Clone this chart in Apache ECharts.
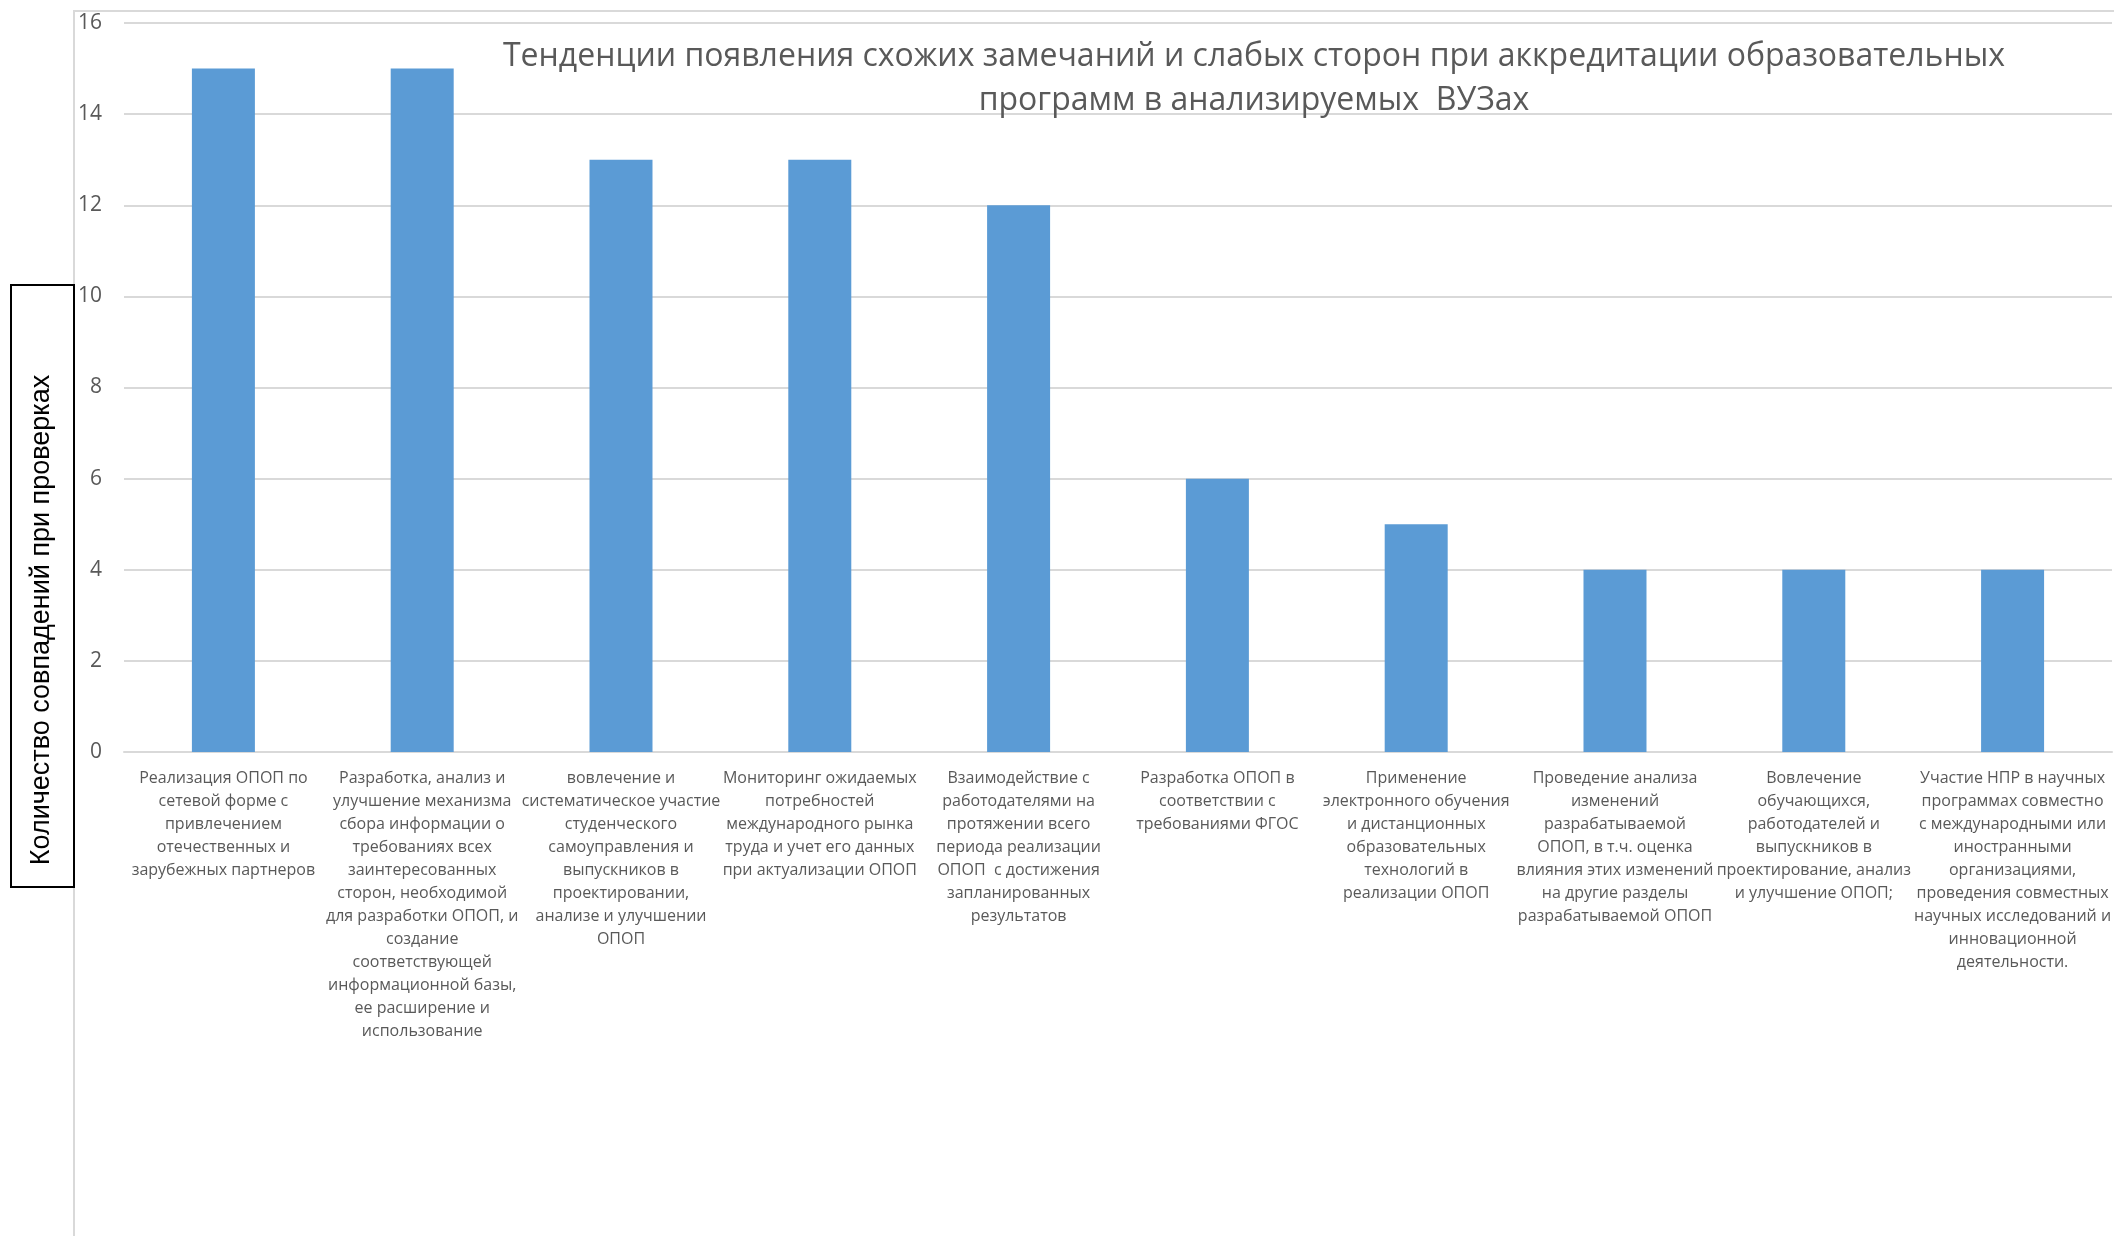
<!DOCTYPE html>
<html>
<head>
<meta charset="utf-8">
<script src="https://cdn.jsdelivr.net/npm/echarts@6/dist/echarts.min.js"></script>
<style>
  html, body { margin: 0; padding: 0; background: #ffffff; }
  #chart { width: 2114px; height: 1236px; }
</style>
</head>
<body>
<div id="chart"></div>
<script>
const titleLines = [
  'Тенденции появления схожих замечаний и слабых сторон при аккредитации образовательных',
  'программ в анализируемых  ВУЗах'
];
const yAxisTitle = 'Количество совпадений при проверках';
const categories = [
  'Реализация ОПОП по\nсетевой форме с\nпривлечением\nотечественных и\nзарубежных партнеров',
  'Разработка, анализ и\nулучшение механизма\nсбора информации о\nтребованиях всех\nзаинтересованных\nсторон, необходимой\nдля разработки ОПОП, и\nсоздание\nсоответствующей\nинформационной базы,\nее расширение и\nиспользование',
  'вовлечение и\nсистематическое участие\nстуденческого\nсамоуправления и\nвыпускников в\nпроектировании,\nанализе и улучшении\nОПОП',
  'Мониторинг ожидаемых\nпотребностей\nмеждународного рынка\nтруда и учет его данных\nпри актуализации ОПОП',
  'Взаимодействие с\nработодателями на\nпротяжении всего\nпериода реализации\nОПОП  с достижения\nзапланированных\nрезультатов',
  'Разработка ОПОП в\nсоответствии с\nтребованиями ФГОС',
  'Применение\nэлектронного обучения\nи дистанционных\nобразовательных\nтехнологий в\nреализации ОПОП',
  'Проведение анализа\nизменений\nразрабатываемой\nОПОП, в т.ч. оценка\nвлияния этих изменений\nна другие разделы\nразрабатываемой ОПОП',
  'Вовлечение\nобучающихся,\nработодателей и\nвыпускников в\nпроектирование, анализ\nи улучшение ОПОП;',
  'Участие НПР в научных\nпрограммах совместно\nс международными или\nиностранными\nорганизациями,\nпроведения совместных\nнаучных исследований и\nинновационной\nдеятельности.'
];
const values = [15, 15, 13, 13, 12, 6, 5, 4, 4, 4];
const yMin = 0;
const yMax = 16;
const yStep = 2;

const chart = echarts.init(document.getElementById('chart'), null, { renderer: 'canvas' });
const option = {
  backgroundColor: '#ffffff',
  animation: false,
  grid: { left: 124, right: 0, top: 23, bottom: 484, containLabel: false },
  xAxis: {
    type: 'category',
    data: categories,
    axisLine: { show: true, lineStyle: { color: '#D9D9D9', width: 2 } },
    axisTick: { show: false },
    axisLabel: {
      interval: 0,
      hideOverlap: false,
      margin: 15,
      color: '#595959',
      fontFamily: 'Open Sans',
      fontSize: 16,
      lineHeight: 23,
      align: 'center'
    },
    splitLine: { show: false }
  },
  yAxis: {
    type: 'value',
    min: yMin,
    max: yMax,
    interval: yStep,
    axisLine: { show: false },
    axisTick: { show: false },
    axisLabel: {
      margin: 22,
      color: '#595959',
      fontFamily: 'Open Sans',
      fontSize: 21
    },
    splitLine: { show: true, lineStyle: { color: '#D9D9D9', width: 2 } }
  },
  series: [{
    type: 'bar',
    data: values,
    barWidth: 63,
    itemStyle: { color: '#5B9BD5' },
    z: 3
  }],
  graphic: [
    {
      type: 'rect',
      z: 1,
      silent: true,
      shape: { x: 74, y: 11, width: 2200, height: 1400 },
      style: { fill: 'none', stroke: '#D9D9D9', lineWidth: 2 }
    },
    {
      type: 'text',
      z: 10,
      silent: true,
      x: 1254,
      y: 35,
      style: {
        text: titleLines.join('\n'),
        fill: '#595959',
        font: '32px "Open Sans"',
        lineHeight: 44,
        align: 'center',
        verticalAlign: 'top'
      }
    },
    {
      type: 'rect',
      z: 5,
      silent: true,
      shape: { x: 11, y: 285, width: 63, height: 602 },
      style: { fill: '#ffffff', stroke: '#000000', lineWidth: 2 }
    },
    {
      type: 'text',
      z: 6,
      silent: true,
      x: 42,
      y: 620,
      rotation: Math.PI / 2,
      style: {
        text: yAxisTitle,
        fill: '#000000',
        font: '27px "Liberation Sans"',
        align: 'center',
        verticalAlign: 'middle'
      }
    }
  ]
};
chart.setOption(option);
</script>
</body>
</html>
